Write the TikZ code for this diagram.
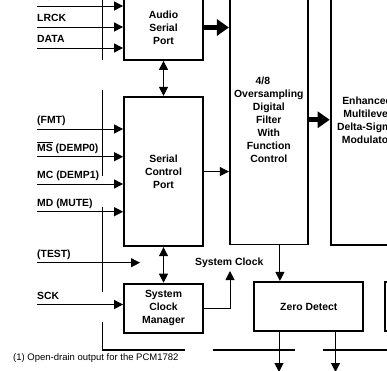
\documentclass[tikz,border=0pt]{standalone}
\usepackage{fontspec}
\setmainfont{Liberation Sans}
\usetikzlibrary{positioning,arrows.meta,calc}

\tikzset{
  block/.style={draw, line width=1.8pt, inner sep=0pt, align=center,
    font=\bfseries\fontsize{10.4}{13}\selectfont},
  sig/.style={anchor=base west, inner sep=0pt,
    font=\bfseries\fontsize{10.4}{13}\selectfont},
  sigline/.style={line width=1pt, -{Triangle[length=9pt,width=9pt]}},
  dbl/.style={line width=1pt,
    {Triangle[length=9pt,width=9pt]}-{Triangle[length=9pt,width=9pt]}},
  bus/.style={line width=5pt, -{Triangle[length=12pt,width=16pt]}},
  bar/.style={line width=1.8pt},
}

\begin{document}
\begin{tikzpicture}[x=1pt, y=-1pt]
  \useasboundingbox (0,0) rectangle (387,370);
  \clip (0,0) rectangle (387,370);

  % Blocchi principali
  \node [block, minimum width=79pt, minimum height=65pt] (asp) at (163.5,27.5) {Audio\\Serial\\Port};
  \node [block, minimum width=79pt, minimum height=149.5pt, below=35pt of asp] (scp) {Serial\\Control\\Port};
  \node [block, minimum width=79pt, minimum height=49.5pt, below=35.5pt of scp] (scm) {System\\Clock\\Manager};
  \node [block, minimum width=78pt, minimum height=249.5pt, anchor=north west] (filter)
    at ([xshift=25pt]asp.north east) {4/8\hspace*{12pt}\\Oversampling\\Digital\\Filter\\With\\Function\\Control};
  \node [block, minimum width=73pt, minimum height=250pt, anchor=north west] (mod)
    at ([xshift=21pt]filter.north east) {Enhanced\\Multilevel\\Delta-Sigma\\Modulator};
  \node [block, minimum width=109pt, minimum height=49.5pt, below right=35.5pt and 24.5pt of filter.south west] (zero) {Zero Detect};
  \node [block, minimum width=60pt, minimum height=49.5pt, right=20pt of zero] (aux) {};

  % Ingressi
  \foreach \y/\name/\txt in {6/bck/BCK, 27/lrck/LRCK, 48/data/DATA} {
    \coordinate (\name) at (37,\y);
    \node [sig] (\name-l) at ([yshift=5.5pt]\name) {\txt};
    \draw [sigline] (\name) -- (\name -| asp.west);
  }
  \foreach \y/\name/\txt in {129/fmt/(FMT), 156.7/ms/$\overline{\mbox{MS}}$ (DEMP0), 184/mc/MC (DEMP1), 211.7/md/MD (MUTE)} {
    \coordinate (\name) at (37,\y);
    \node [sig] (\name-l) at ([yshift=5.5pt]\name) {\txt};
    \draw [sigline] (\name) -- (\name -| scp.west);
  }
  \coordinate (test) at (37,262.7);
  \coordinate (test-e) at (140,262.7);
  \node [sig] (test-l) at ([yshift=5.5pt]test) {(TEST)};
  \draw [sigline] (test) -- (test-e);
  \coordinate (sck) at (37,304.5);
  \node [sig] (sck-l) at ([yshift=5.5pt]sck) {SCK};
  \draw [sigline] (sck) -- (sck -| scm.west);

  % Barre
  \draw [bar] (102.5,-5) -- (102.5,60);
  \draw [bar] (102.5,90) -- (102.5,176);
  \draw [bar] (102.5,206.7) -- (102.5,291.7);
  \draw [bar] (102.5,321.7) -- (102.5,350) -- (185,350);
  \draw [bar] (212.7,350) -- (295,350);
  \draw [bar] (323,350) -- (395,350);

  % Collegamenti
  \draw [bus] (asp.east) -- (asp.east -| filter.west);
  \draw [bus] (filter.east) -- (filter.east -| mod.west);
  \draw [sigline] (scp.east) -- (scp.east -| filter.west);
  \draw [dbl] (asp.south) -- (scp.north);
  \draw [dbl] (scp.south) -- (scm.north);

  \coordinate (sclk) at (230,271);
  \draw [sigline] (scm.east) -| (sclk);
  \node [sig, anchor=base] (sclk-l) at (229.3,265) {System Clock};

  \coordinate (zin) at ([xshift=26.5pt]zero.north west);
  \draw [sigline] (zin |- filter.south) -- (zin);
  \coordinate (zo1) at (279,372);
  \coordinate (zo2) at (335.5,372);
  \draw [sigline] (zo1 |- zero.south) -- (zo1);
  \draw [sigline] (zo2 |- zero.south) -- (zo2);

  % Nota
  \node [anchor=base west, inner sep=0pt, font=\fontsize{9.5}{11}\selectfont] (note) at (13,360) {(1) Open-drain output for the PCM1782};
\end{tikzpicture}
\end{document}
